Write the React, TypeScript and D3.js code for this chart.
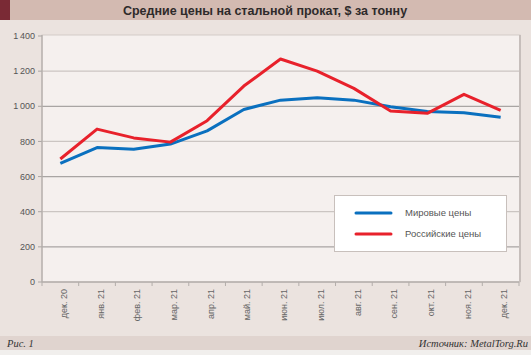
import React from "react";
import * as d3 from "d3";

const categories = ["дек. 20", "янв. 21", "фев. 21", "мар. 21", "апр. 21", "май. 21", "июн. 21", "июл. 21", "авг. 21", "сен. 21", "окт. 21", "ноя. 21", "дек. 21"];
const worldPrices = [675, 765, 755, 785, 860, 982, 1035, 1048, 1035, 997, 970, 963, 937];
const russianPrices = [700, 870, 820, 796, 918, 1115, 1269, 1200, 1102, 973, 960, 1068, 977];
const yTicks = [0, 200, 400, 600, 800, 1000, 1200, 1400];
const seriesNames = ["Мировые цены", "Российские цены"];

const W = 531, H = 355;
const X0 = 42, X1 = 519, Y0 = 282, Y1 = 36;
const FONT = "'Liberation Sans', Arial, sans-serif";
const SERIF = "'Liberation Serif', 'Times New Roman', serif";

export default function App() {
  const x = d3.scaleBand<string>().domain(categories).range([X0, X1]);
  const y = d3.scaleLinear().domain([0, 1400]).range([Y0, Y1]);
  const cx = (c: string) => (x(c) ?? 0) + x.bandwidth() / 2;
  const line = d3.line<number>().x((_, i) => cx(categories[i])).y((v) => y(v));
  const fmt = (v: number) => (v >= 1000 ? `${Math.floor(v / 1000)}\u2009${String(v % 1000).padStart(3, "0")}` : String(v));
  const edges = categories.map((c) => x(c) ?? 0).concat([X1]);

  return (
    <svg width={W} height={H} style={{ position: "absolute", left: 0, top: 0, display: "block" }}>
      <rect x={0} y={0} width={W} height={H} fill="#f1efed" />
      <rect x={0} y={20} width={W} height={316} fill="#ebe3df" />
      <rect x={0} y={0} width={W} height={20} fill="#d3bab1" />
      <rect x={0} y={0} width={10} height={20} fill="#7a2a35" />
      <text x={265} y={14.5} textAnchor="middle" fontFamily={FONT} fontWeight="bold" fontSize={12.5} fill="#2e2a2a">
        Средние цены на стальной прокат, $ за тонну
      </text>

      <rect x={X0} y={Y1 - 1} width={X1 - X0 + 1} height={Y0 - Y1 + 1} fill="#f5f0ee" stroke="#d4ccc8" strokeWidth={1} />
      <line x1={X1 + 1} x2={X1 + 1} y1={Y1 - 1} y2={Y0} stroke="#c6bebb" strokeWidth={2} />

      {yTicks.filter((t) => t > 0 && t < 1400).map((t, i) => (
        <line key={t} x1={X0} x2={X1} y1={y(t)} y2={y(t)} stroke={i % 2 === 0 ? "#a9a5a3" : "#cbc5c2"} strokeWidth={1.3} />
      ))}
      {yTicks.map((t) => (
        <g key={"yt" + t}>
          <line x1={X0 - 4} x2={X0} y1={y(t)} y2={y(t)} stroke="#a9a5a3" />
          <text x={35} y={y(t)} dy="0.35em" textAnchor="end" fontFamily={FONT} fontSize={9} fill="#555">
            {fmt(t)}
          </text>
        </g>
      ))}
      <line x1={X0} x2={X0} y1={Y1 - 1} y2={Y0} stroke="#b3aeab" strokeWidth={1.3} />
      <line x1={X0} x2={X1} y1={Y0} y2={Y0} stroke="#b3aeab" strokeWidth={1.3} />
      {edges.map((e, i) => (
        <line key={"xt" + i} x1={e} x2={e} y1={Y0} y2={Y0 + 4} stroke="#b3aeab" />
      ))}
      {categories.map((c) => (
        <text key={c} transform={`translate(${cx(c) + 3.5},${289}) rotate(-90)`} dy="0.35em" textAnchor="end" fontFamily={FONT} fontSize={9} fill="#666">
          {c}
        </text>
      ))}

      <path d={line(worldPrices) ?? ""} fill="none" stroke="#0a70bf" strokeWidth={3} strokeLinejoin="round" />
      <path d={line(russianPrices) ?? ""} fill="none" stroke="#e8212b" strokeWidth={3} strokeLinejoin="round" />

      <rect x={334.5} y={195.5} width={172} height={56} fill="#ffffff" stroke="#c8c0bc" />
      <line x1={356} x2={391} y1={213} y2={213} stroke="#0a70bf" strokeWidth={3} strokeLinecap="round" />
      <text x={405} y={213} dy="0.35em" fontFamily={FONT} fontSize={9.5} fill="#555">{seriesNames[0]}</text>
      <line x1={356} x2={391} y1={234} y2={234} stroke="#e8212b" strokeWidth={3} strokeLinecap="round" />
      <text x={405} y={234} dy="0.35em" fontFamily={FONT} fontSize={9.5} fill="#555">{seriesNames[1]}</text>

      <rect x={0} y={336} width={W} height={14} fill="#e0d4cf" />
      <text x={7} y={347} fontFamily={SERIF} fontStyle="italic" fontSize={10.5} fill="#333">Рис. 1</text>
      <text x={528} y={347} textAnchor="end" fontFamily={SERIF} fontStyle="italic" fontSize={10.5} fill="#333">Источник: MetalTorg.Ru</text>
    </svg>
  );
}
